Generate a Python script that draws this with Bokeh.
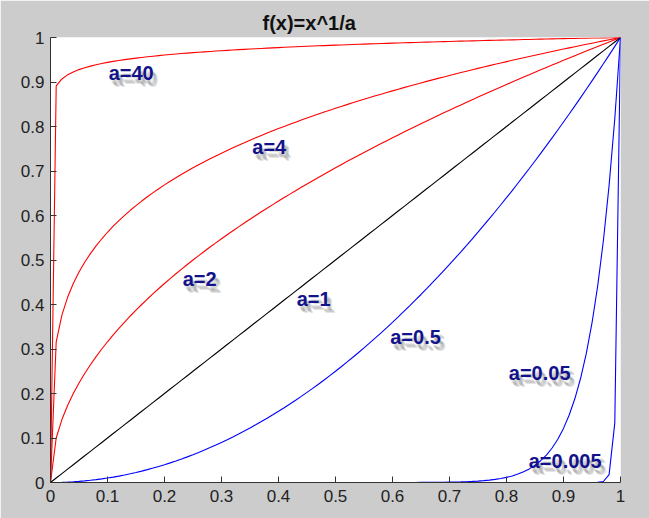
import numpy as np
from bokeh.plotting import figure
from bokeh.models import Range1d, FixedTicker, ColumnDataSource
from bokeh.core.properties import value
from bokeh.embed import file_html
from bokeh.resources import INLINE

# exponent parameter a of f(x) = x^(1/a), as labelled in the chart
exponents_a = [40, 4, 2, 1, 0.5, 0.05, 0.005]
curve_colors = ["#ff0000", "#ff0000", "#ff0000", "#000000", "#0000ff", "#0000ff", "#0000ff"]
# sample grid of the plotted function (step 0.01, as seen in the kinks near x=0)
x_samples = np.linspace(0.0, 1.0, 101)

label_texts = ["a=40", "a=4", "a=2", "a=1", "a=0.5", "a=0.05", "a=0.005"]
label_x = [0.102, 0.354, 0.232, 0.432, 0.596, 0.804, 0.839]
label_y = [0.921, 0.755, 0.458, 0.413, 0.326, 0.245, 0.049]

tick_values = [0, 0.1, 0.2, 0.3, 0.4, 0.5, 0.6, 0.7, 0.8, 0.9, 1]
tick_labels = ["0", "0.1", "0.2", "0.3", "0.4", "0.5", "0.6", "0.7", "0.8", "0.9", "1"]
title_text = "f(x)=x^1/a"

FONT = "Liberation Sans"
GRAY_BG = "#cccccc"

p = figure(width=649, height=518, output_backend="svg", toolbar_location=None,
           x_range=Range1d(0, 1), y_range=Range1d(0, 1),
           min_border_left=50, min_border_right=29, min_border_top=37, min_border_bottom=36,
           title=title_text)
p.border_fill_color = GRAY_BG
p.background_fill_color = "white"
p.outline_line_color = None
p.grid.visible = False

p.title.align = "left"
p.title.offset = 212
p.title.text_font = FONT
p.title.text_font_style = "bold"
p.title.text_font_size = "20px"
p.title.text_color = "#111111"
p.title.standoff = 8

for a, c in zip(exponents_a, curve_colors):
    ys = x_samples ** (1.0 / a)
    p.line(x_samples, ys, line_color=c, line_width=1.1)

overrides = {v: t for v, t in zip(tick_values, tick_labels)}
for ax in (p.xaxis[0], p.yaxis[0]):
    ax.ticker = FixedTicker(ticks=tick_values)
    ax.major_label_overrides = overrides
    ax.major_tick_in = 6
    ax.major_tick_out = 0
    ax.minor_tick_in = 0
    ax.minor_tick_out = 0
    ax.axis_line_color = "#333333"
    ax.major_tick_line_color = "#333333"
    ax.major_label_text_font = FONT
    ax.major_label_text_font_size = "17px"
    ax.major_label_text_color = "#222222"
p.xaxis[0].major_label_standoff = 7
p.yaxis[0].major_label_standoff = 6

src = ColumnDataSource(dict(x=label_x, y=label_y, t=label_texts))
for dx, dy, al in [(5, -7, 0.16), (4, -6, 0.18), (3, -5, 0.16), (2, -4, 0.1)]:
    p.text("x", "y", text="t", source=src, x_offset=dx, y_offset=-dy,
           text_font=value(FONT), text_font_style="bold", text_font_size="20px",
           text_color="#555555", text_alpha=al, text_align="left", text_baseline="middle")
p.text("x", "y", text="t", source=src,
       text_font=value(FONT), text_font_style="bold", text_font_size="20px",
       text_color="#12128c", text_align="left", text_baseline="middle")

open("out.html", "w").write(file_html(p, INLINE))
